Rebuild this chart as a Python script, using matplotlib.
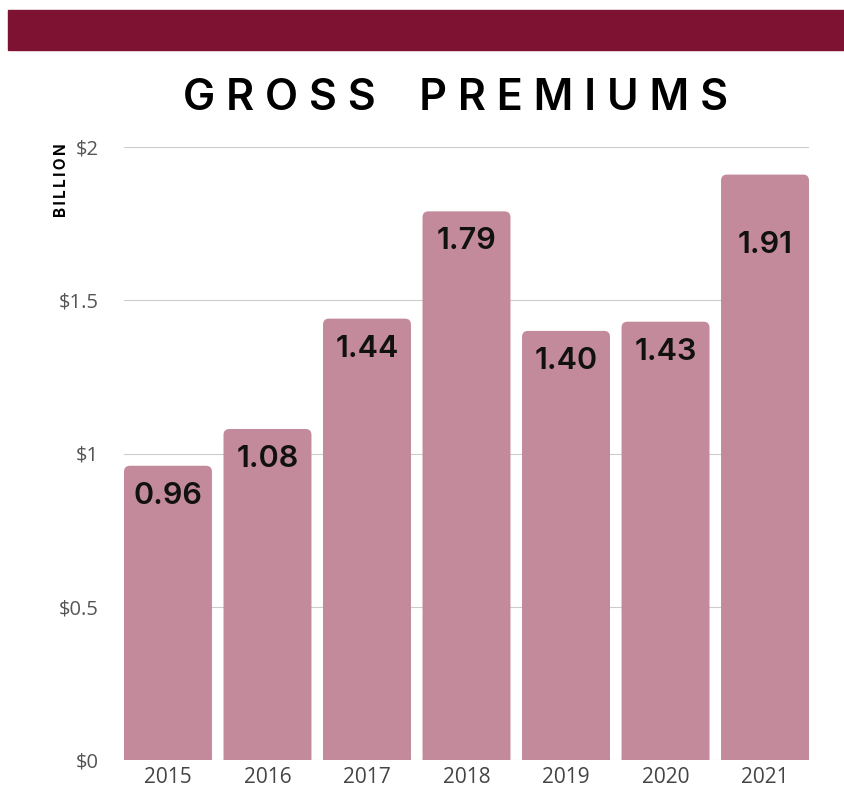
import matplotlib
matplotlib.use("Agg")
import matplotlib.pyplot as plt
from matplotlib.patches import FancyBboxPatch, Rectangle

# gross premiums, billion $
years = ['2015', '2016', '2017', '2018', '2019', '2020', '2021']
premiums = [0.96, 1.08, 1.44, 1.79, 1.40, 1.43, 1.91]
value_labels = ['0.96', '1.08', '1.44', '1.79', '1.40', '1.43', '1.91']
ytick_vals = [0, 0.5, 1, 1.5, 2]
ytick_labels = ['$0', '$0.5', '$1', '$1.5', '$2']

bar_color = '#c28a9a'
banner_color = '#7d1232'

fig = plt.figure(figsize=(8.44, 7.92), dpi=100)
fig.patch.set_facecolor('white')

# banner across the top
fig.patches.append(Rectangle((8/844, 1 - 50/792), 1 - 8/844, 40/792,
                             transform=fig.transFigure, color=banner_color, zorder=0))

title = '    '.join([' '.join('GROSS'), ' '.join('PREMIUMS')])
fig.text(456/844, 1 - 99/792, title,
         ha='center', va='center', fontsize=31, fontweight='semibold',
         family='Inter', color='black')

ax = fig.add_axes([124/844, 32/792, 685/844, 613/792])
x = list(range(len(years)))
bars = ax.bar(x, premiums, width=0.884, color=bar_color)

# swap in rounded-top bars
px_x = 685 / 6.884
px_y = 613 / 2.0
for b in bars:
    b.set_visible(False)
    rb = FancyBboxPatch((b.get_x(), -0.05), b.get_width(), b.get_height() + 0.05,
                        boxstyle='round,pad=0,rounding_size=0.06',
                        mutation_aspect=px_x / px_y,
                        facecolor=bar_color, edgecolor='none', zorder=2)
    ax.add_patch(rb)

# labels sit inside the bars near the top
for i, v in enumerate(premiums):
    off = 30 if i != 6 else 70
    ax.annotate(value_labels[i], (x[i], v), xytext=(0, -off), textcoords='offset pixels',
                ha='center', va='center', fontsize=22, fontweight='semibold',
                family='Inter', color='#111111', zorder=3)

ax.set_xlim(-0.442, 6.442)
ax.set_ylim(0, 2)
ax.set_xticks(x)
ax.set_xticklabels(years, family='Open Sans', fontsize=15, color='#444444')
ax.set_yticks(ytick_vals)
ax.set_yticklabels(ytick_labels, family='Open Sans', fontsize=14.5, color='#555555')
ax.tick_params(length=0)
ax.tick_params(axis='y', pad=18)
ax.tick_params(axis='x', pad=5)
ax.grid(axis='y', color='#cccccc', linewidth=0.8, zorder=0)
ax.set_axisbelow(True)
for s in ax.spines.values():
    s.set_visible(False)

fig.text(62/844, 1 - 180/792, '\u2009'.join('BILLION'), rotation=90, ha='center', va='center',
         fontsize=11, fontweight='bold', family='Inter', color='black')

fig.savefig('out.png', dpi=100, facecolor='white')
